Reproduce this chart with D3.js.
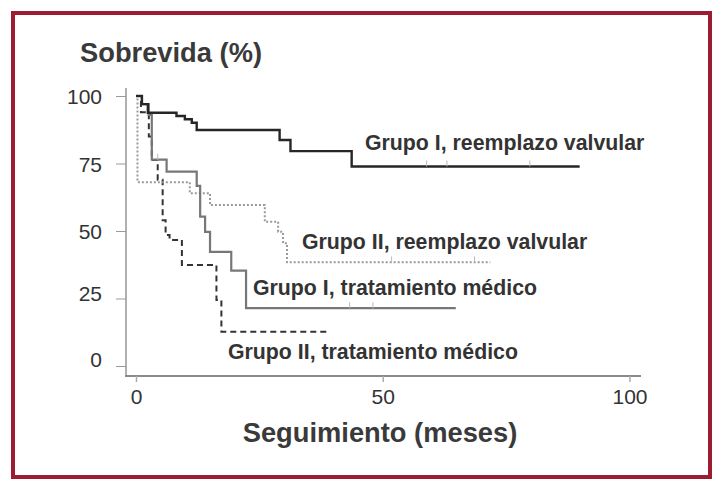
<!DOCTYPE html>
<html>
<head>
<meta charset="utf-8">
<script src="https://cdn.jsdelivr.net/npm/d3@7"></script>
<style>
  html, body { margin: 0; padding: 0; background: #fff; }
  svg { display: block; font-family: "Liberation Sans", Arial, sans-serif; }
</style>
</head>
<body>
<div id="chart"></div>
<script>
// curvas de sobrevida (meses, %), em degraus
const grupoIReemplazo = [[0, 100], [1.2, 97], [2.4, 93.8], [8.2, 92.6], [9.9, 91.4], [11.3, 90.1], [12.3, 87.4],
  [29.1, 83.7], [31.3, 79.6], [43.7, 73.9], [89.9, 73.9]];
const grupoITratamiento = [[0, 100], [1.2, 97], [2.6, 93], [3.2, 76.4], [6.2, 72], [12.3, 66.7], [13.0, 55.3],
  [14.0, 49.7], [15.0, 42.3], [19.3, 35.3], [22.3, 21.4], [64.8, 21.4]];
const grupoIIReemplazo = [[0, 100], [0.3, 68.1], [10.9, 64], [15.0, 59.6], [26.1, 53.4], [28.8, 49.7],
  [29.8, 45.5], [30.6, 38.4], [71.8, 38.4]];
const grupoIITratamiento = [[0, 100], [1.0, 94], [2.6, 85], [3.2, 76.3], [4.4, 69], [5.4, 54], [6.0, 48.5],
  [6.8, 46.7], [9.3, 37.4], [16.3, 24.4], [17.3, 12.7], [39.3, 12.7]];

// marcas de censura (meses)
const censuraIReemplazo = [58.9, 63, 79.8];
const censuraIIReemplazo = [51.8, 68.6];
const censuraITratamiento = [4.4, 43.3, 48];

const xTicks = [0, 50, 100];
const yTicks = [0, 25, 50, 75, 100];

const rotulos = [
  { texto: 'Grupo I, reemplazo valvular', x: 365, y: 150 },
  { texto: 'Grupo II, reemplazo valvular', x: 302, y: 249 },
  { texto: 'Grupo I, tratamiento médico', x: 253, y: 295 },
  { texto: 'Grupo II, tratamiento médico', x: 228, y: 359 }
];

const width = 720, height = 494;

const svg = d3.select('#chart')
  .append('svg')
  .attr('width', width)
  .attr('height', height);

// moldura
svg.append('rect')
  .attr('x', 13).attr('y', 13)
  .attr('width', 697).attr('height', 464)
  .attr('fill', 'none')
  .attr('stroke', '#9b1d2f')
  .attr('stroke-width', 4);

const x = d3.scaleLinear().domain([0, 100]).range([136, 629.5]);
const y = d3.scaleLinear().domain([0, 100]).range([366, 96]);

// eixo Y
svg.append('line')
  .attr('x1', 126).attr('x2', 126)
  .attr('y1', 88).attr('y2', 376)
  .attr('stroke', '#b0b0b0').attr('stroke-width', 2);

const yAxis = svg.append('g')
  .attr('transform', 'translate(126,0)')
  .call(d3.axisLeft(y).tickValues(yTicks).tickSize(10).tickPadding(14));
yAxis.select('.domain').remove();
yAxis.selectAll('line').attr('stroke', '#999').attr('stroke-width', 1);
yAxis.selectAll('text')
  .attr('fill', '#333')
  .style('font-size', '21px')
  .style('font-family', '"Liberation Sans", Arial, sans-serif')
  // os rótulos de baixo ficam um pouco acima da marca no original
  .attr('dy', d => d === 0 ? '0.0em' : d === 25 ? '0.08em' : '0.36em');

// eixo X
svg.append('line')
  .attr('x1', 125).attr('x2', 641)
  .attr('y1', 376).attr('y2', 376)
  .attr('stroke', '#8a8a8a').attr('stroke-width', 2);

const xAxis = svg.append('g')
  .attr('transform', 'translate(0,376)')
  .call(d3.axisBottom(x).tickValues(xTicks).tickSize(6).tickPadding(7));
xAxis.select('.domain').remove();
xAxis.selectAll('line').attr('stroke', '#aaa').attr('stroke-width', 1.5);
xAxis.selectAll('text')
  .attr('fill', '#333')
  .style('font-size', '21px')
  .style('font-family', '"Liberation Sans", Arial, sans-serif');

// curvas
const linha = d3.line()
  .x(d => x(d[0]))
  .y(d => y(d[1]))
  .curve(d3.curveStepAfter);

const series = [
  { dados: grupoIITratamiento, cor: '#333', dash: '6,4', w: 2 },
  { dados: grupoIIReemplazo, cor: '#9a9a9a', dash: '2,2', w: 2 },
  { dados: grupoITratamiento, cor: '#777', dash: null, w: 2.2 },
  { dados: grupoIReemplazo, cor: '#262626', dash: null, w: 2.4 }
];

series.forEach(s => {
  svg.append('path')
    .datum(s.dados)
    .attr('d', linha)
    .attr('fill', 'none')
    .attr('stroke', s.cor)
    .attr('stroke-width', s.w)
    .attr('stroke-dasharray', s.dash);
});

function nivel(dados, m) {
  let v = dados[0][1];
  dados.forEach(d => { if (d[0] <= m) v = d[1]; });
  return v;
}
[[censuraIReemplazo, grupoIReemplazo], [censuraIIReemplazo, grupoIIReemplazo], [censuraITratamiento, grupoITratamiento]]
  .forEach(([marcas, dados]) => {
    svg.selectAll(null)
      .data(marcas)
      .enter()
      .append('line')
      .attr('x1', d => x(d)).attr('x2', d => x(d))
      .attr('y1', d => y(nivel(dados, d)) - 6)
      .attr('y2', d => y(nivel(dados, d)))
      .attr('stroke', '#bbb')
      .attr('stroke-width', 1);
  });

// rótulos das curvas
svg.selectAll('.rotulo')
  .data(rotulos)
  .enter()
  .append('text')
  .attr('class', 'rotulo')
  .attr('x', d => d.x)
  .attr('y', d => d.y)
  .text(d => d.texto)
  .attr('fill', '#333')
  .style('font-size', '21.3px')
  .style('font-weight', '700');

// títulos dos eixos
svg.append('text')
  .attr('x', 80).attr('y', 62)
  .text('Sobrevida (%)')
  .attr('fill', '#3a3a3a')
  .style('font-size', '27.3px')
  .style('font-weight', '700');

svg.append('text')
  .attr('x', 380).attr('y', 442)
  .attr('text-anchor', 'middle')
  .text('Seguimiento (meses)')
  .attr('fill', '#3a3a3a')
  .style('font-size', '27.3px')
  .style('font-weight', '700');
</script>
</body>
</html>
